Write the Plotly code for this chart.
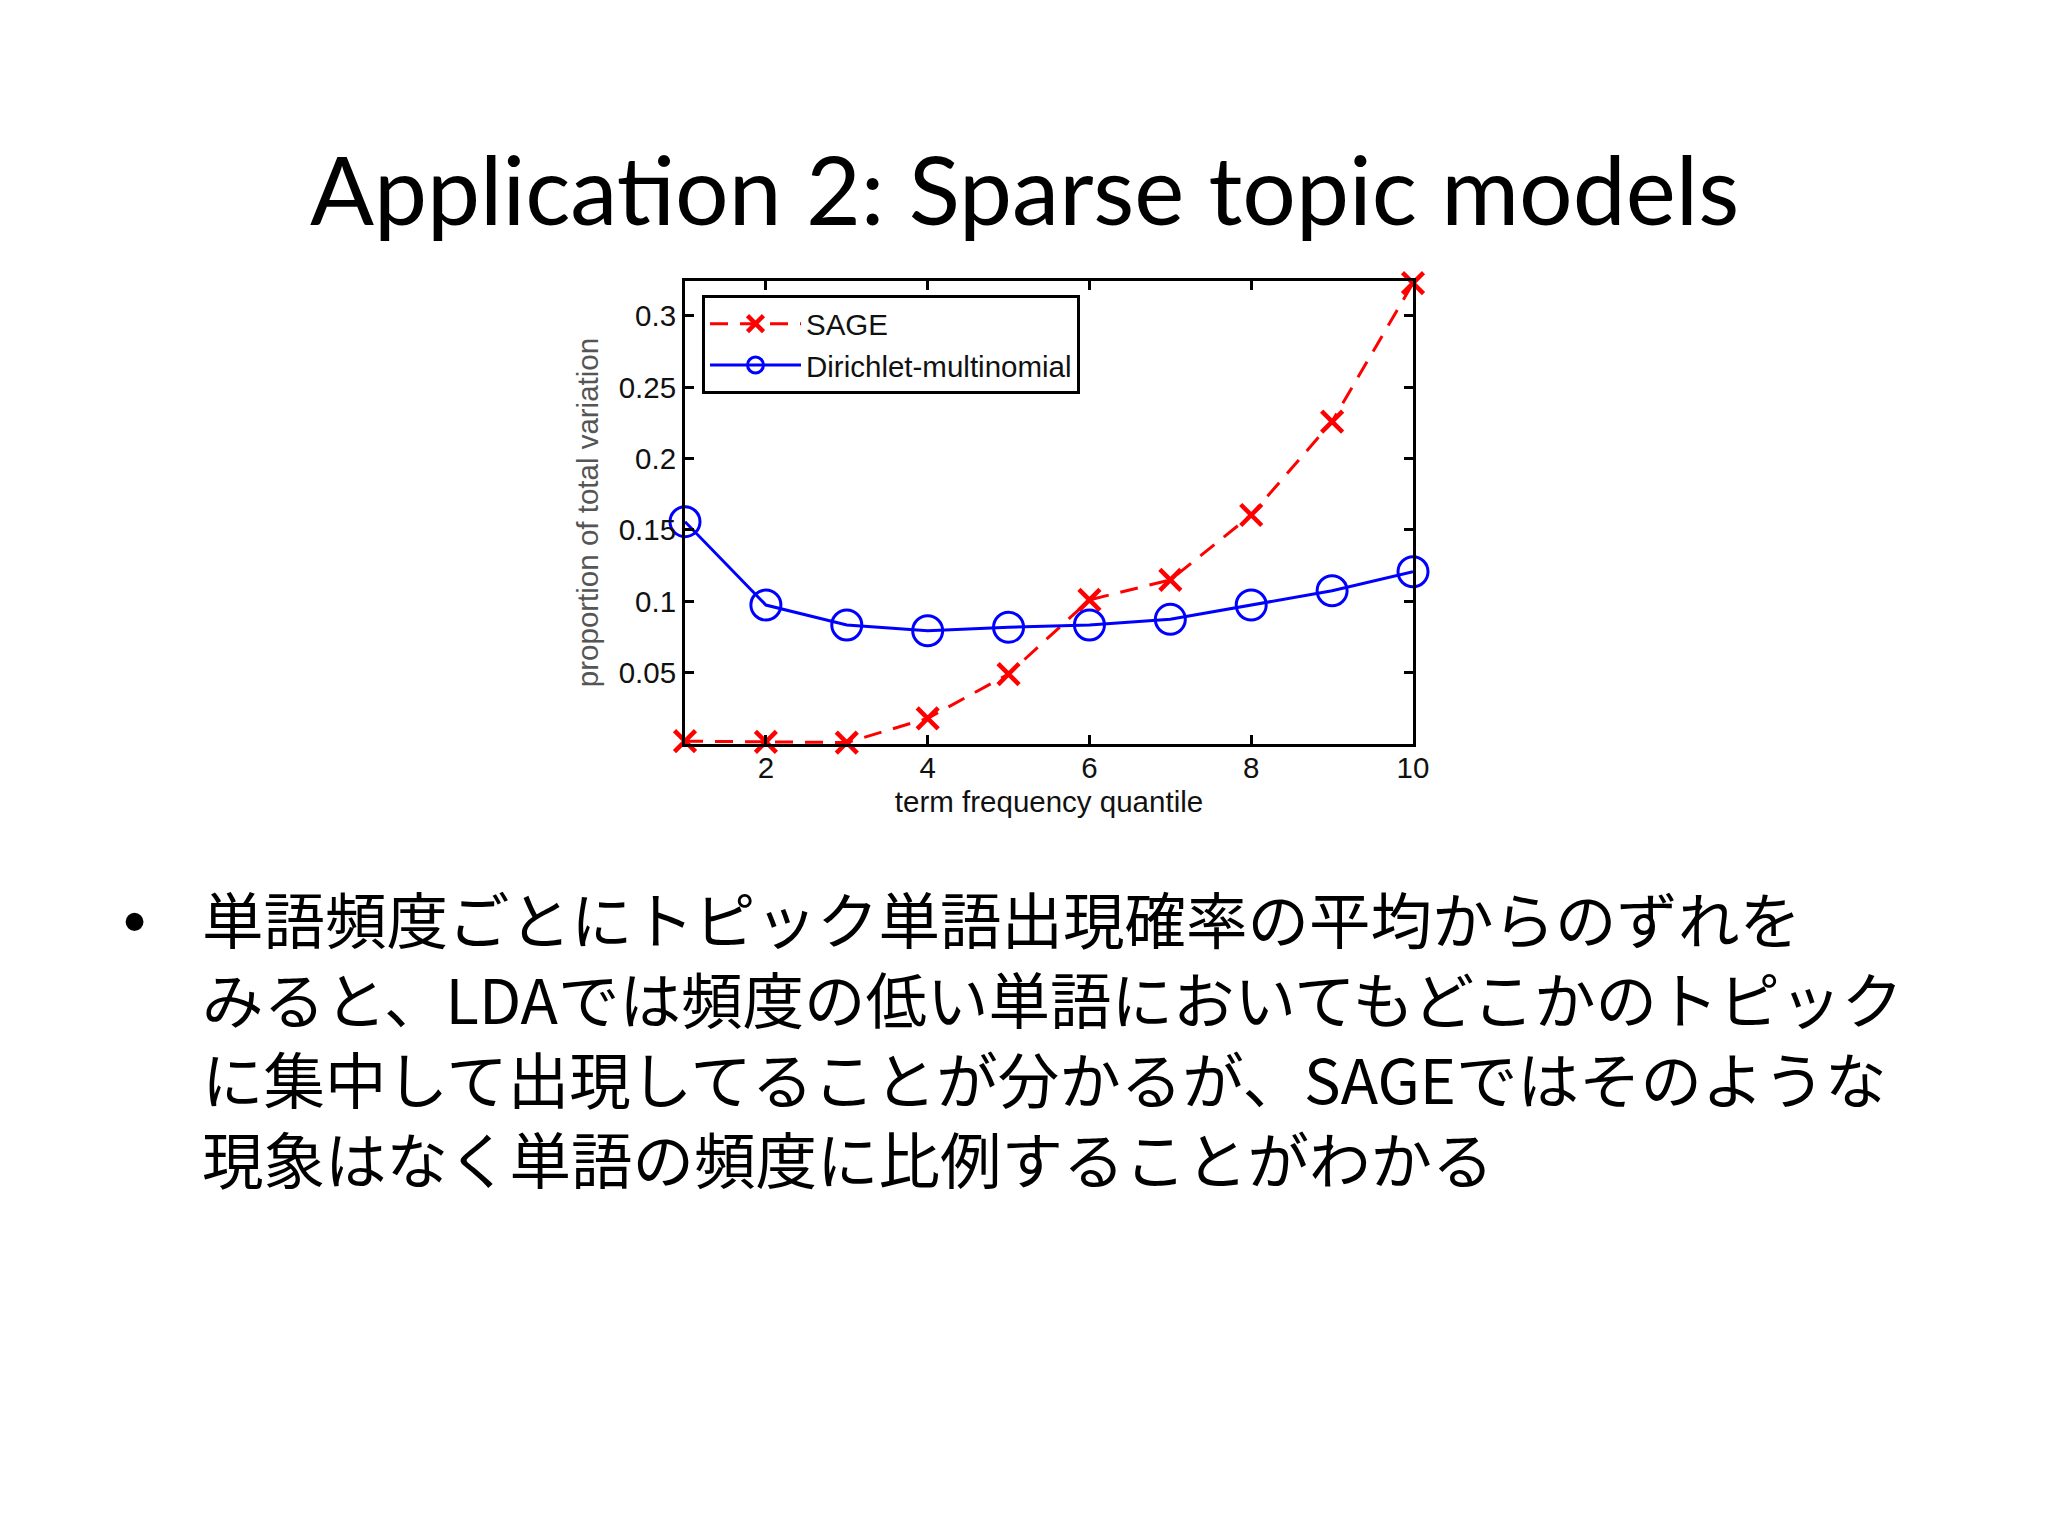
import plotly.graph_objects as go

# ---- data ----
quantile = [1, 2, 3, 4, 5, 6, 7, 8, 9, 10]
sage = [0.002, 0.0015, 0.001, 0.018, 0.049, 0.101, 0.115, 0.1605, 0.226, 0.323]
dirichlet = [0.1558, 0.0974, 0.0834, 0.0794, 0.0818, 0.0834, 0.0874, 0.0974, 0.1074, 0.1207]

x_tickvals = [2, 4, 6, 8, 10]
y_tickvals = [0.05, 0.1, 0.15, 0.2, 0.25, 0.3]
y_ticktext = ["0.05", "0.1", "0.15", "0.2", "0.25", "0.3"]

series_names = ["SAGE", "Dirichlet-multinomial"]
x_title = "term frequency quantile"
y_title = "proportion of total variation"

slide_title = "Application 2: Sparse topic models"
body_lines = [
    "単語頻度ごとにトピック単語出現確率の平均からのずれを",
    "みると、LDAでは頻度の低い単語においてもどこかのトピック",
    "に集中して出現してることが分かるが、SAGEではそのような",
    "現象はなく単語の頻度に比例することがわかる",
]

# ---- geometry (pixels on the 2048x1536 page) ----
W, H = 2048, 1536
PL, PR, PT, PB = 685, 1413, 281, 744


def px_x(x):
    return (x - PL) / (PR - PL)


def px_y(y):
    return (PB - y) / (PB - PT)


CHART_FONT = "Liberation Sans, Arial, sans-serif"
CJK_FONT = "Noto Sans CJK JP"

fig = go.Figure()
fig.add_trace(go.Scatter(
    x=quantile, y=sage, name=series_names[0], mode="lines+markers",
    line=dict(color="#ff0000", width=3, dash="18px,12px"),
    marker=dict(symbol="x-thin", size=21, line=dict(color="#ff0000", width=4.5)),
    cliponaxis=False,
))
fig.add_trace(go.Scatter(
    x=quantile, y=dirichlet, name=series_names[1], mode="lines+markers",
    line=dict(color="#0000ff", width=3),
    marker=dict(symbol="circle-open", size=30, color="#0000ff", line=dict(color="#0000ff", width=3)),
    cliponaxis=False,
))

axis_common = dict(
    showline=True, linecolor="black", linewidth=3, mirror="ticks",
    ticks="inside", ticklen=9, tickwidth=2.5, tickcolor="black",
    showgrid=False, zeroline=False,
    tickfont=dict(family=CHART_FONT, size=29.5, color="#111"),
)

fig.update_xaxes(
    range=[1, 10], tickvals=x_tickvals, ticktext=[str(v) for v in x_tickvals],
    ticklabelstandoff=-4,
    title=dict(text=x_title, font=dict(family=CHART_FONT, size=29.5, color="#111"), standoff=8),
    **axis_common,
)
fig.update_yaxes(
    range=[0, 0.3245], tickvals=y_tickvals, ticktext=y_ticktext,
    title=dict(text=y_title, font=dict(family=CHART_FONT, size=29.5, color="#555"), standoff=12),
    **axis_common,
)

annotations = [
    dict(text=slide_title, x=1024, y=188, font=dict(family="Lato", size=94.7, color="black"),
         xanchor="center", yanchor="middle"),
    dict(text="•", x=134, y=921, font=dict(family=CHART_FONT, size=66, color="black"),
         xanchor="center", yanchor="middle"),
    dict(text="<br>".join(body_lines), x=200, y=1037, align="left",
         font=dict(family=CJK_FONT, size=61.5, color="black"),
         xanchor="left", yanchor="middle"),
]

fig.update_layout(
    width=W, height=H, autosize=False,
    margin=dict(l=PL, r=W - PR, t=PT, b=H - PB, pad=0),
    paper_bgcolor="white", plot_bgcolor="white",
    showlegend=True,
    legend=dict(
        x=px_x(702), y=px_y(295), xanchor="left", yanchor="top",
        bgcolor="white", bordercolor="black", borderwidth=3,
        font=dict(family=CHART_FONT, size=29.5, color="#111"),
        itemwidth=91, tracegroupgap=0,
    ),
    annotations=[dict(a, xref="paper", yref="paper", showarrow=False,
                      x=px_x(a["x"]), y=px_y(a["y"])) for a in annotations],
)

fig.write_html("out.html", config={"displayModeBar": False},
               post_script="document.body.style.margin='0';document.body.style.overflow='hidden';")
